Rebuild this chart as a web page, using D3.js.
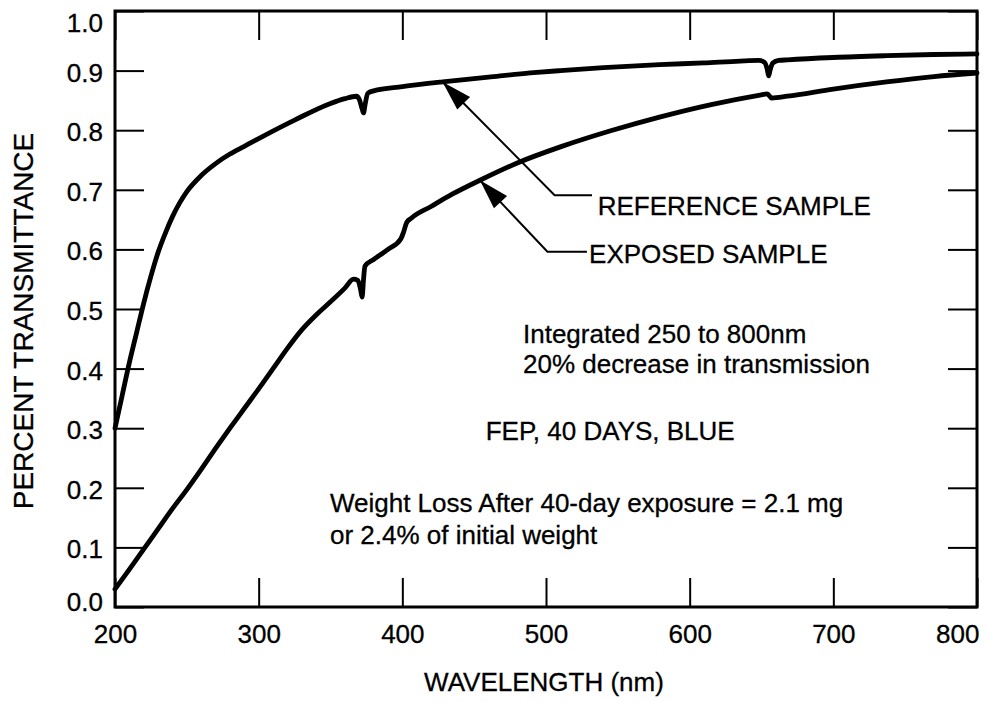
<!DOCTYPE html>
<html>
<head>
<meta charset="utf-8">
<script src="https://cdn.jsdelivr.net/npm/d3@7"></script>
<style>
  body { margin: 0; background: #fff; }
  svg { display: block; font-family: "Liberation Sans", Arial, Helvetica, sans-serif; }
  svg text { fill: #000; stroke: #000; stroke-width: 0.3px; }
  .tick text { font-size: 26px; }
</style>
</head>
<body>
<svg width="987" height="702"></svg>
<script>
// wavelength (nm) / transmittance readings, reference sample
var refWave = [200, 205, 210, 215, 220, 225, 230, 235, 240, 245, 250, 260, 270, 280, 290, 300,
  325, 350, 360, 368, 370, 372, 373, 374, 376, 380, 400, 428, 460, 489, 510, 540,
  579, 610, 635, 648, 652, 654, 655, 656, 658, 662, 668, 700, 737, 770, 800];
var refValue = [0.300, 0.355, 0.410, 0.460, 0.510, 0.555, 0.595, 0.627, 0.655, 0.678, 0.697, 0.724, 0.744, 0.760, 0.773, 0.786,
  0.817, 0.845, 0.853, 0.857, 0.852, 0.836, 0.829, 0.842, 0.862, 0.866, 0.873, 0.881, 0.889, 0.896, 0.900, 0.905,
  0.910, 0.913, 0.916, 0.917, 0.914, 0.902, 0.891, 0.901, 0.913, 0.917, 0.918, 0.922, 0.925, 0.927, 0.928];

// exposed sample
var expWave = [200, 210, 220, 230, 240, 250, 260, 270, 280, 290, 300, 310, 320, 330, 340, 350,
  360, 366, 369, 371, 372, 373, 374, 380, 390, 399, 401, 403, 406, 420, 435, 454,
  480, 510, 545, 579, 615, 649, 654, 657, 668, 700, 737, 770, 800];
var expValue = [0.030, 0.063, 0.097, 0.131, 0.165, 0.197, 0.231, 0.266, 0.300, 0.333, 0.366, 0.400, 0.434, 0.465, 0.490, 0.512,
  0.535, 0.550, 0.548, 0.532, 0.520, 0.550, 0.572, 0.583, 0.600, 0.618, 0.630, 0.645, 0.652, 0.672, 0.693, 0.716,
  0.745, 0.772, 0.799, 0.822, 0.843, 0.859, 0.861, 0.854, 0.857, 0.869, 0.881, 0.890, 0.896];

var xTicks = [200, 300, 400, 500, 600, 700, 800];
var yTicks = [0, 0.1, 0.2, 0.3, 0.4, 0.5, 0.6, 0.7, 0.8, 0.9, 1.0];

var svg = d3.select("svg"),
  margin = {top: 11, right: 10, bottom: 95, left: 115},
  width = +svg.attr("width") - margin.left - margin.right,
  height = +svg.attr("height") - margin.top - margin.bottom,
  g = svg.append("g").attr("transform", "translate(" + margin.left + "," + margin.top + ")");

var x = d3.scaleLinear().domain([200, 800]).range([0, width]);
var y = d3.scaleLinear().domain([0, 1]).range([height, 0]);

// axes, ticks pointing inward on all four sides
var tickLen = 29;

g.append("g")
  .attr("transform", "translate(0," + height + ")")
  .call(d3.axisBottom(x).tickValues(xTicks).tickSizeInner(-tickLen).tickSizeOuter(0).tickPadding(18))
  .call(a => a.select(".domain").remove())
  // last label sits inside the page edge
  .call(a => a.selectAll("text").filter(d => d === 800).attr("text-anchor", "end").attr("x", 2));

g.append("g")
  .call(d3.axisTop(x).tickValues(xTicks).tickSizeInner(-tickLen).tickSizeOuter(0).tickFormat(""))
  .call(a => a.select(".domain").remove());

g.append("g")
  .call(d3.axisLeft(y).tickValues(yTicks).tickSizeInner(-tickLen).tickSizeOuter(0).tickPadding(12).tickFormat(d3.format(".1f")))
  .call(a => a.select(".domain").remove())
  .call(a => a.selectAll("text").attr("dy", "0.4em"))
  .call(a => a.selectAll("text").filter(d => d === 1).attr("dy", "0.78em"))
  .call(a => a.selectAll("text").filter(d => d === 0).attr("dy", "0.12em"));

g.append("g")
  .attr("transform", "translate(" + width + ",0)")
  .call(d3.axisRight(y).tickValues(yTicks).tickSizeInner(-tickLen).tickSizeOuter(0).tickFormat(""))
  .call(a => a.select(".domain").remove());

g.selectAll(".tick line").attr("stroke", "#000").attr("stroke-width", 2);

// frame
g.append("rect")
  .attr("width", width)
  .attr("height", height)
  .attr("fill", "none")
  .attr("stroke", "#000")
  .attr("stroke-width", 3);

// curves
var line = d3.line()
  .x(d => x(d[0]))
  .y(d => y(d[1]))
  .curve(d3.curveMonotoneX);

var series = [d3.zip(refWave, refValue), d3.zip(expWave, expValue)];

g.selectAll(".curve")
  .data(series)
  .enter().append("path")
  .attr("class", "curve")
  .attr("d", line)
  .attr("fill", "none")
  .attr("stroke", "#000")
  .attr("stroke-width", 4.8)
  .attr("stroke-linejoin", "round")
  .attr("stroke-linecap", "round");

// leader arrows: [tip, elbow, end of horizontal run] in data units
var arrows = [
  {pts: [[428, 0.881], [506, 0.691], [532, 0.691]], label: "REFERENCE SAMPLE", at: [536, 0.657]},
  {pts: [[454, 0.716], [501, 0.596], [528.5, 0.596]], label: "EXPOSED SAMPLE", at: [530, 0.578]}
];

arrows.forEach(function (a) {
  var p = a.pts.map(d => [x(d[0]), y(d[1])]);
  g.append("path")
    .attr("d", d3.line()([p[2], p[1], p[0]]))
    .attr("fill", "none")
    .attr("stroke", "#000")
    .attr("stroke-width", 2);

  // arrowhead along elbow -> tip
  var ang = Math.atan2(p[0][1] - p[1][1], p[0][0] - p[1][0]);
  var len = 30, half = 9;
  var bx = p[0][0] - len * Math.cos(ang), by = p[0][1] - len * Math.sin(ang);
  var head = [
    p[0],
    [bx + half * Math.sin(ang), by - half * Math.cos(ang)],
    [bx - half * Math.sin(ang), by + half * Math.cos(ang)]
  ];
  g.append("path")
    .attr("d", "M" + head.join("L") + "Z")
    .attr("fill", "#000");

  g.append("text")
    .attr("x", x(a.at[0]))
    .attr("y", y(a.at[1]))
    .attr("font-size", 26)
    .text(a.label);
});

// notes
var notes = [
  {text: "Integrated 250 to 800nm", at: [484, 0.443]},
  {text: "20% decrease in transmission", at: [484, 0.393]},
  {text: "FEP, 40 DAYS, BLUE", at: [458, 0.280]},
  {text: "Weight Loss After 40-day exposure = 2.1 mg", at: [349.6, 0.159]},
  {text: "or 2.4% of initial weight", at: [349.6, 0.105]}
];

g.selectAll(".note")
  .data(notes)
  .enter().append("text")
  .attr("class", "note")
  .attr("x", d => x(d.at[0]))
  .attr("y", d => y(d.at[1]))
  .attr("font-size", 26)
  .text(d => d.text);

// axis titles
svg.append("text")
  .attr("x", margin.left + x(500) - 2)
  .attr("y", 691)
  .attr("text-anchor", "middle")
  .attr("font-size", 26)
  .text("WAVELENGTH (nm)");

svg.append("text")
  .attr("transform", "translate(33,321) rotate(-90)")
  .attr("text-anchor", "middle")
  .attr("font-size", 28)
  .text("PERCENT TRANSMITTANCE");
</script>
</body>
</html>
